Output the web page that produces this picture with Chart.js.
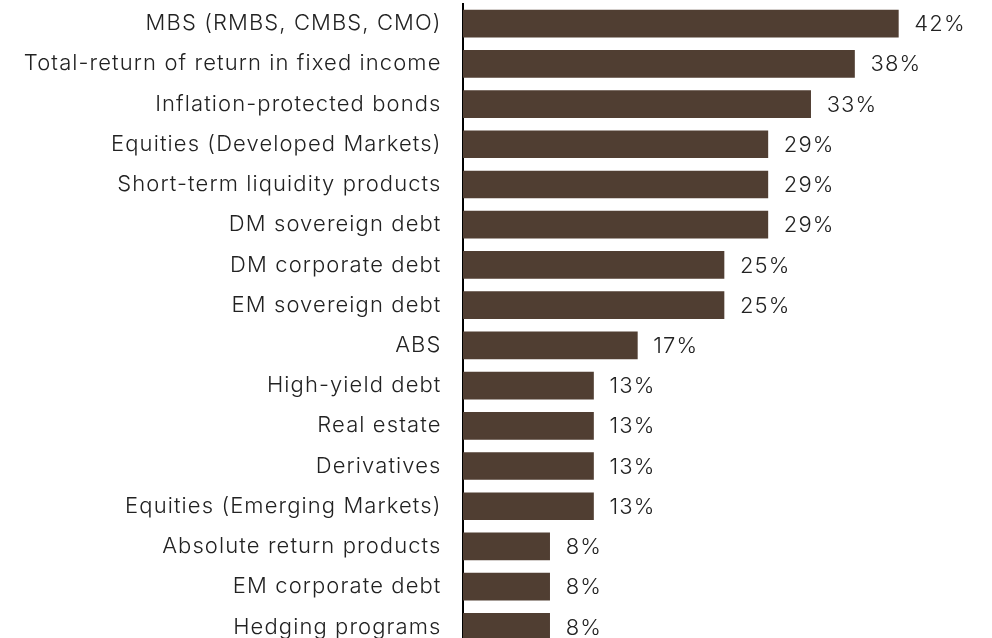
<!DOCTYPE html>
<html>
<head>
<meta charset="utf-8">
<script src="https://cdn.jsdelivr.net/npm/chart.js@4"></script>
<style>
  html, body { margin: 0; padding: 0; background: #fff; overflow: hidden; }
</style>
</head>
<body>
<canvas id="myChart" width="992" height="647"></canvas>
<script>
var categories = ["MBS (RMBS, CMBS, CMO)", "Total-return of return in fixed income", "Inflation-protected bonds",
  "Equities (Developed Markets)", "Short-term liquidity products", "DM sovereign debt", "DM corporate debt",
  "EM sovereign debt", "ABS", "High-yield debt", "Real estate", "Derivatives", "Equities (Emerging Markets)",
  "Absolute return products", "EM corporate debt", "Hedging programs"]

var shares = [41.7, 37.5, 33.3, 29.2, 29.2, 29.2, 25, 25, 16.7, 12.5, 12.5, 12.5, 12.5, 8.3, 8.3, 8.3]

var barColor = 'rgb(80, 62, 50)'
var textFont = { family: 'Inter', size: 22, weight: 300 }

// the original font is wide, so space the letters out a bit
var spacing = {
  id: 'spacing',
  beforeUpdate: function(chart) { chart.ctx.letterSpacing = '1.1px' },
  beforeDraw: function(chart) { chart.ctx.letterSpacing = '1.1px' }
}

// writes "42%" etc. after every bar
var valueLabels = {
  id: 'valueLabels',
  afterDatasetsDraw: function(chart) {
    var ctx = chart.ctx
    var meta = chart.getDatasetMeta(0)
    ctx.save()
    ctx.font = '300 22px Inter'
    ctx.fillStyle = '#222'
    ctx.textAlign = 'left'
    ctx.textBaseline = 'middle'
    meta.data.forEach(function(bar, i) {
      ctx.fillText(Math.round(shares[i]) + '%', bar.x + 16, bar.y + 1)
    })
    ctx.restore()
  }
}

var ctx = document.getElementById('myChart').getContext('2d')
var chart = new Chart(ctx, {
  type: 'bar',
  data: {
    labels: categories,
    datasets: [{
      data: shares,
      backgroundColor: barColor,
      barThickness: 27
    }]
  },
  options: {
    indexAxis: 'y',
    responsive: false,
    animation: false,
    layout: { padding: { top: 3.5, right: 7, left: 0, bottom: 0 } },
    plugins: { legend: { display: false }, tooltip: { enabled: false } },
    scales: {
      x: { display: false, min: 0, max: 50 },
      y: {
        afterFit: function(scale) {
          scale.width = 463
          scale.paddingTop = 0
          scale.paddingBottom = 0
        },
        grid: { display: false, drawTicks: false },
        border: { display: true, color: '#000', width: 2 },
        ticks: { color: '#222', padding: 21.5, font: textFont }
      }
    }
  },
  plugins: [spacing, valueLabels]
})
</script>
</body>
</html>
